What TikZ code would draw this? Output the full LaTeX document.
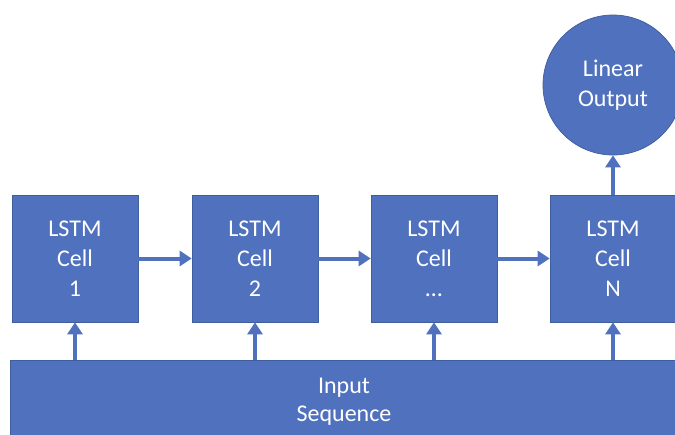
\documentclass[tikz,border=0pt]{standalone}
\usepackage{fontspec}
\setmainfont{Carlito}
\usetikzlibrary{arrows.meta}
\definecolor{cellblue}{HTML}{4F71BE}
\definecolor{edgeblue}{HTML}{3E5E9E}
\begin{document}
\begin{tikzpicture}[x=1pt,y=-1pt,
  cellbox/.style={draw=edgeblue, line width=0.7pt, fill=cellblue, text=white,
    minimum width=126pt, minimum height=127pt, align=center, inner sep=0pt,
    font=\fontsize{24}{30}\selectfont},
  outcircle/.style={circle, draw=edgeblue, line width=0.7pt, fill=cellblue, text=white,
    minimum size=140pt, align=center, inner sep=0pt,
    font=\fontsize{24}{30}\selectfont},
  inbar/.style={draw=edgeblue, line width=0.7pt, fill=cellblue, text=white,
    minimum width=668pt, minimum height=84pt, align=center, inner sep=0pt,
    font=\fontsize{24}{28}\selectfont},
  flow/.style={draw=cellblue, line width=4pt, -{Triangle[length=12pt,width=15pt]}}]
  \useasboundingbox (0,0) rectangle (675,434);
  \clip (0,0) rectangle (675,434);

  % LSTM cells in a row
  \node[cellbox] (c1) at (75,258.5)  {LSTM\\Cell\\1};
  \node[cellbox] (c2) at (255,258.5) {LSTM\\Cell\\2};
  \node[cellbox] (c3) at (434,258.5) {LSTM\\Cell\\\dots};
  \node[cellbox] (c4) at (613,258.5) {LSTM\\Cell\\N};

  % output and input
  \node[outcircle] (out) at (613,85) {Linear\\Output};
  \node[inbar] (in) at (344,402) {Input\\Sequence};

  % recurrent connections
  \draw[flow] (c1.east) -- (c2.west);
  \draw[flow] (c2.east) -- (c3.west);
  \draw[flow] (c3.east) -- (c4.west);

  % input feeds each cell
  \foreach \c in {c1,c2,c3,c4}
    \draw[flow] (in.north -| \c) -- (\c.south);

  % final cell to output
  \draw[flow] (c4.north) -- (out.south);
\end{tikzpicture}
\end{document}
